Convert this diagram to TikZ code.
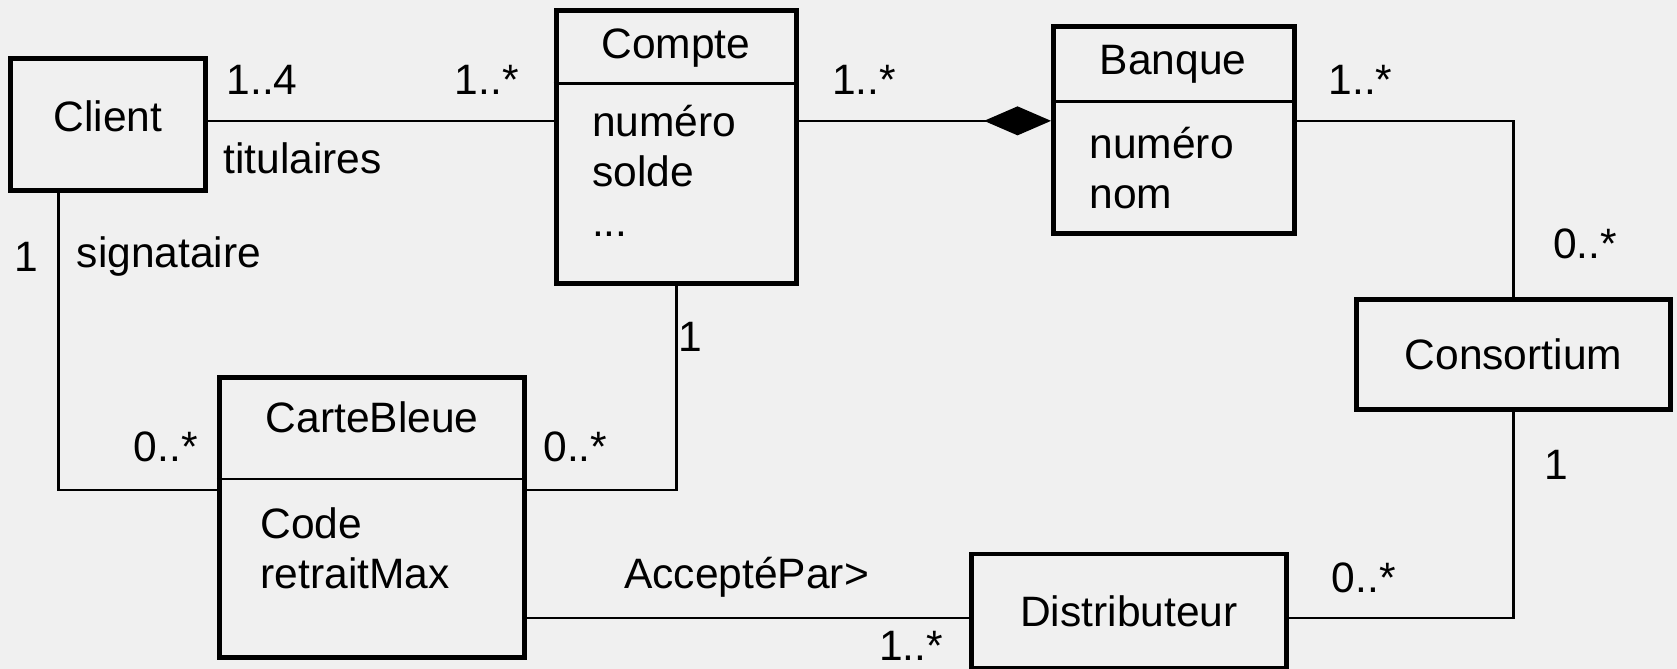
\documentclass[tikz,border=0pt]{standalone}
\usepackage{fontspec}
\setmainfont{Liberation Sans}
\usetikzlibrary{arrows.meta}
\definecolor{fond}{RGB}{240,240,240}

\begin{document}
\begin{tikzpicture}[x=1.0695cm, y=1.0695cm]
\tikzset{classe/.style={draw, line width=1.4pt, inner sep=0pt, font=\fontsize{12.1}{14.2}\selectfont},
lien/.style={line width=0.65pt},
txt/.style={inner sep=0pt, font=\fontsize{12.1}{14.2}\selectfont},
attr/.style={txt, align=left, anchor=north west}}
\fill[fond] (0,0) rectangle (15.68,-6.255);
\useasboundingbox (0,0) rectangle (15.68,-6.255);
% classes
\node[classe, minimum width=1.946cm, minimum height=1.315cm, text depth=0.18cm] (client) at (1.01,-1.165) {Client};
\node[classe, minimum width=2.406cm, minimum height=2.727cm] (compte) at (6.325,-1.375) {};
\node[classe, minimum width=2.406cm, minimum height=2.064cm] (banque) at (10.975,-1.215) {};
\node[classe, minimum width=3.144cm, minimum height=1.102cm] (consortium) at (14.15,-3.315) {Consortium};
\node[classe, minimum width=3.155cm, minimum height=1.144cm] (distributeur) at (10.555,-5.715) {Distributeur};
\node[classe, minimum width=3.048cm, minimum height=2.802cm] (carte) at (3.475,-4.84) {};
% compartiments
\node[txt] (tcompte) at (6.32,-0.45) {Compte};
\draw[lien] (compte.west |- 0,-0.78) -- (compte.east |- 0,-0.78);
\node[attr] (acompte) at (5.53,-0.98) {numéro\\solde\\...};
\node[txt] (tbanque) at (10.97,-0.60) {Banque};
\draw[lien] (banque.west |- 0,-0.95) -- (banque.east |- 0,-0.95);
\node[attr] (abanque) at (10.18,-1.18) {numéro\\nom};
\node[txt] (tcarte) at (3.48,-3.90) {CarteBleue};
\draw[lien] (carte.west |- 0,-4.48) -- (carte.east |- 0,-4.48);
\node[attr] (acarte) at (2.43,-4.74) {Code\\retraitMax};
% liens
\coordinate (lhaut) at (0,-1.13);
\coordinate (lbas) at (0,-4.58);
\coordinate (ldist) at (0,-5.78);
\draw[lien] (client.east |- lhaut) -- (compte.west |- lhaut);
\draw[lien, -{Diamond[length=6.7mm, width=2.9mm]}] (compte.east |- lhaut) -- (banque.west |- lhaut);
\draw[lien] (banque.east |- lhaut) -| (consortium.north);
\draw[lien] (consortium.south) |- (distributeur.east |- ldist);
\draw[lien] (carte.east |- ldist) -- (distributeur.west |- ldist);
\draw[lien] ([xshift=5.03mm]client.south west) |- (carte.west |- lbas);
\draw[lien] (compte.south) |- (carte.east |- lbas);
% multiplicites
\node[txt] (m14) at (2.45,-0.75) {1..4};
\node[txt] (titulaires) at (2.83,-1.48) {titulaires};
\node[txt] (mcompte1) at (4.55,-0.75) {1..*};
\node[txt] (mcompte2) at (8.08,-0.75) {1..*};
\node[txt] (mbanque) at (12.72,-0.75) {1..*};
\node[txt] (mcons1) at (14.82,-2.28) {0..*};
\node[txt] (mcons2) at (14.55,-4.35) {1};
\node[txt] (mdist1) at (12.75,-5.40) {0..*};
\node[txt] (mdist2) at (8.52,-6.04) {1..*};
\node[txt] (accepte) at (6.98,-5.40) {AcceptéPar>};
\node[txt] (mcarte1) at (1.55,-4.18) {0..*};
\node[txt] (mcarte2) at (5.38,-4.18) {0..*};
\node[txt] (mclient) at (0.25,-2.40) {1};
\node[txt] (signataire) at (1.58,-2.40) {signataire};
\node[txt] (mcompte3) at (6.45,-3.15) {1};
\end{tikzpicture}
\end{document}
